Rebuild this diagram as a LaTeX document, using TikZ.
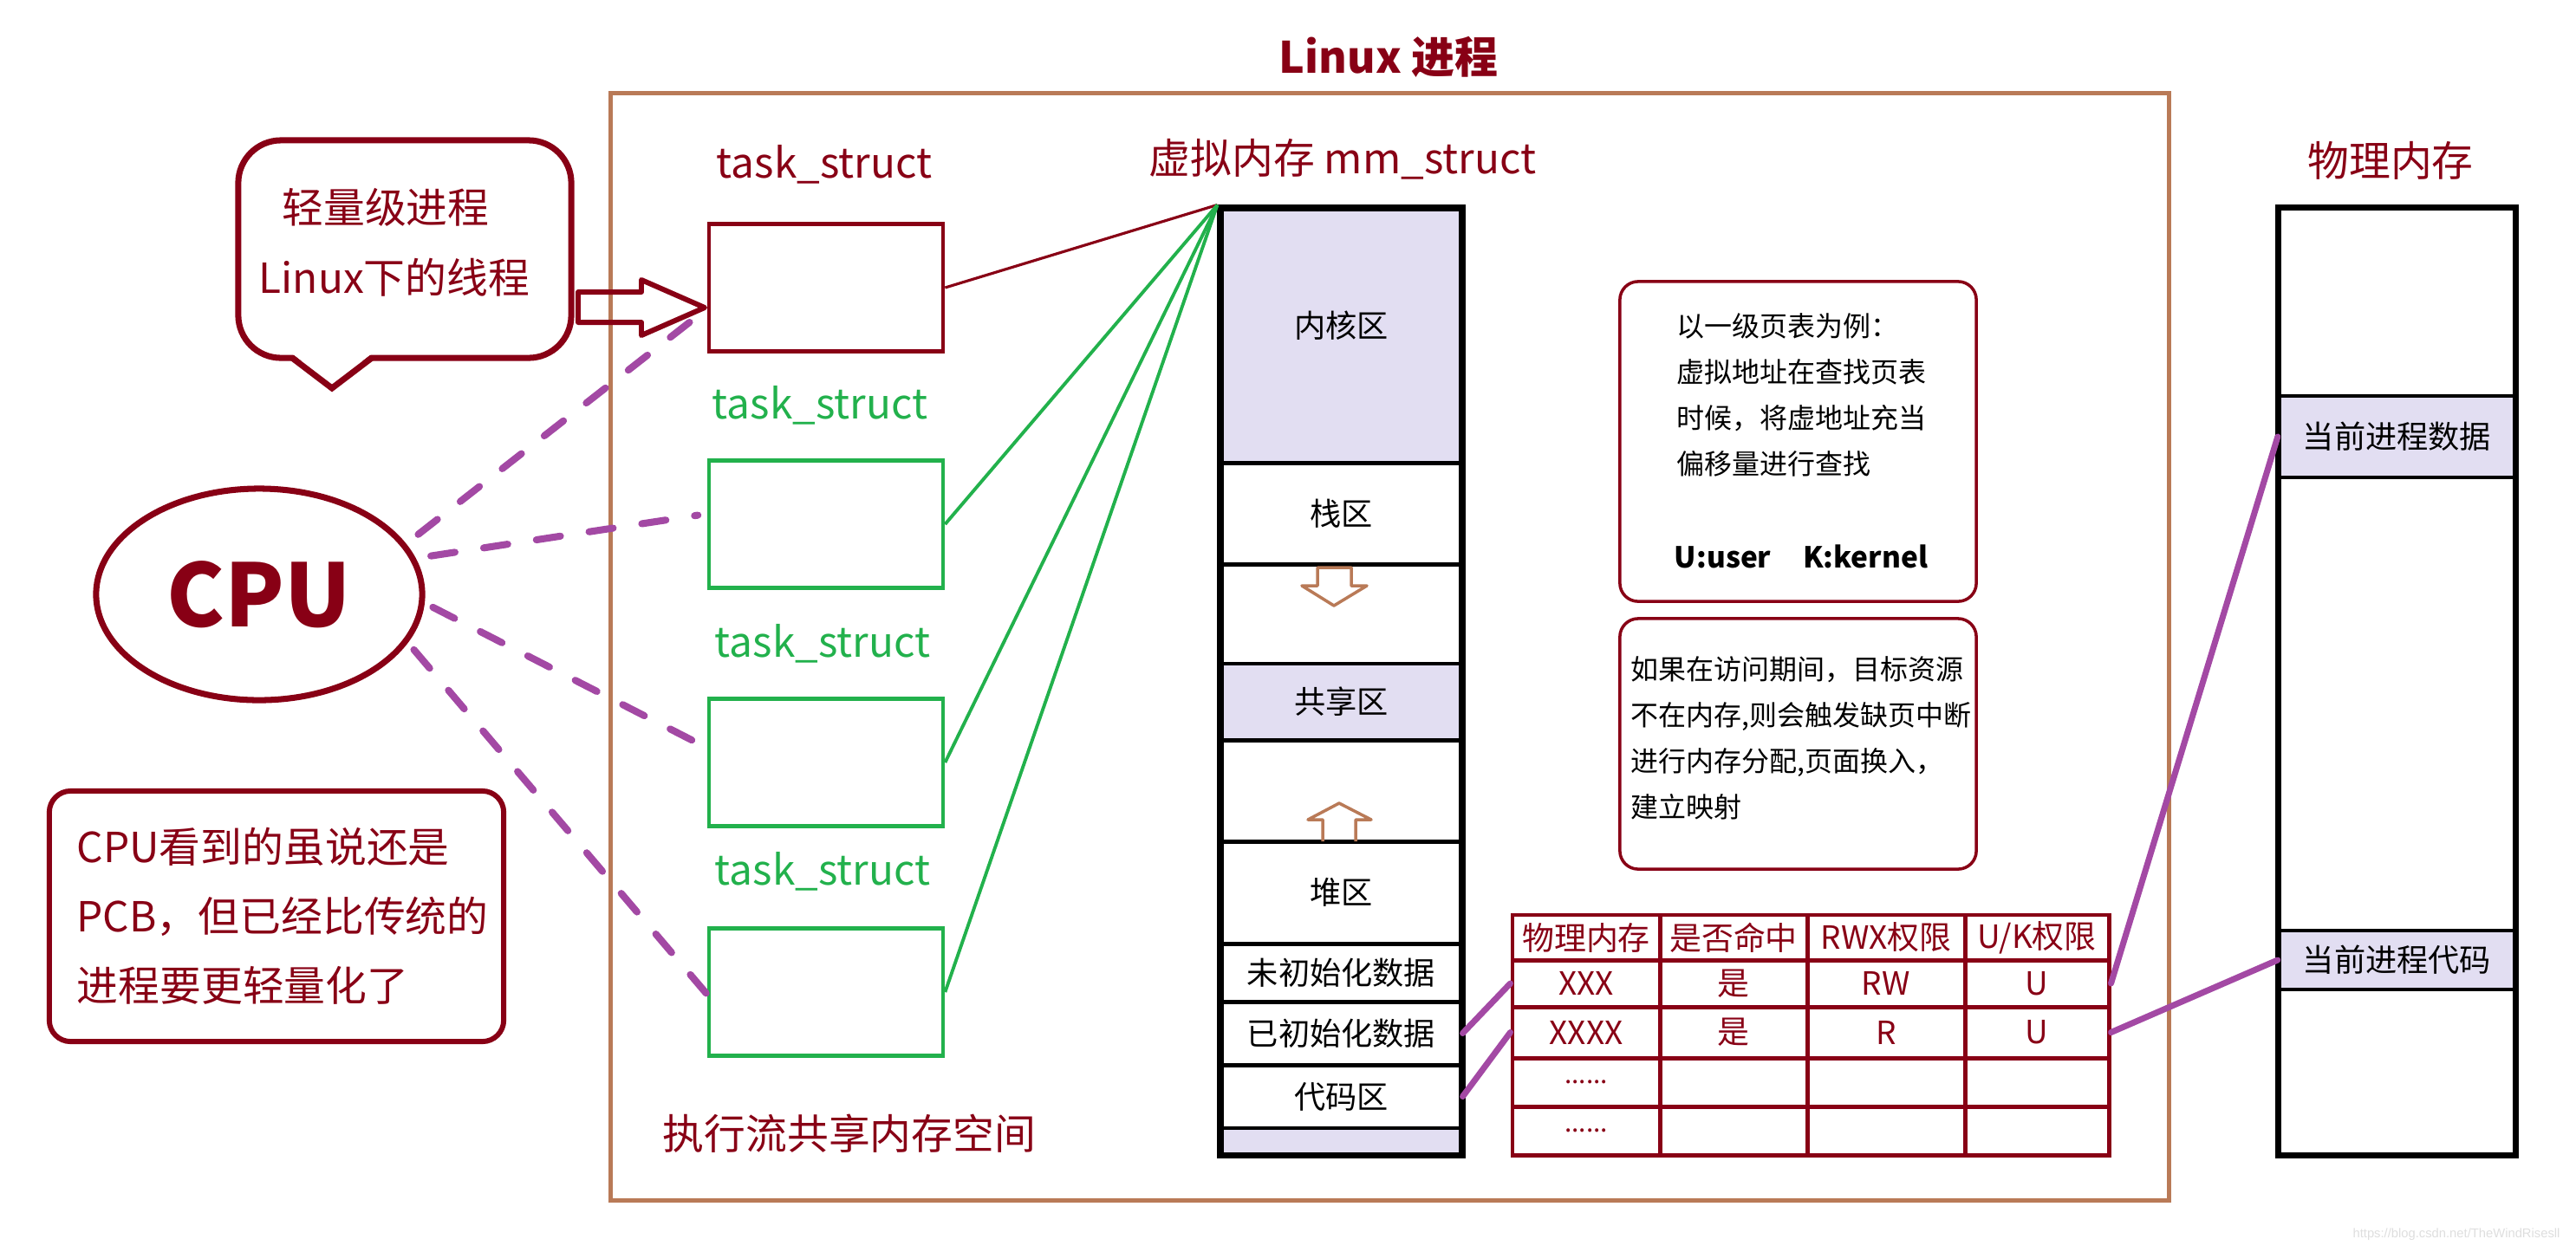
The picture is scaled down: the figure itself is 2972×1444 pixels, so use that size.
\documentclass[tikz,border=0pt]{standalone}
\usepackage{fontspec}
\setmainfont{Noto Sans CJK SC}
\newfontfamily\wmfont{Liberation Sans}
\usetikzlibrary{shapes.geometric,fit}
\definecolor{dred}{HTML}{880015}
\definecolor{brn}{HTML}{B97A57}
\definecolor{grn}{HTML}{22B14C}
\definecolor{purp}{HTML}{A349A4}
\definecolor{lav}{HTML}{E2DEF2}
\newcommand\fsz[2]{\fontsize{#1}{#2}\selectfont}
\begin{document}
\begin{tikzpicture}[x=0.01cm, y=-0.01cm,
  lbl/.style={inner sep=0, font=\fsz{13.6pt}{16pt}},
  task/.style={draw, line width=1.3pt, minimum width=2.70cm, minimum height=1.47cm, inner sep=0},
  vrow/.style={draw=black, line width=1.4pt, minimum width=2.75cm, inner sep=0, font=\fsz{10.3pt}{12pt}},
  prow/.style={draw=black, line width=1.2pt, minimum width=2.71cm, inner sep=0, font=\fsz{10.3pt}{12pt}},
  cell/.style={draw=dred, line width=1.4pt, inner sep=0, text=dred, font=\fsz{10.5pt}{12pt}},
  ca/.style={minimum width=1.70cm}, cb/.style={minimum width=1.70cm},
  cc/.style={minimum width=1.82cm}, cd/.style={minimum width=1.66cm},
  ra/.style={minimum height=0.52cm}, rb/.style={minimum height=0.54cm},
  rc/.style={minimum height=0.59cm}, rd/.style={minimum height=0.56cm},
  re/.style={minimum height=0.56cm},
  notebox/.style={draw=dred, line width=1pt, rounded corners=6pt, inner sep=0},
  dashp/.style={purp, line width=2.3pt, line cap=round, dash pattern=on 8pt off 9.5pt},
  plink/.style={purp, line width=2pt, line cap=round},
  barrow/.style={line join=round}
]
\useasboundingbox (0,0) rectangle (2972,1444);

% outer frame and title
\node[draw=brn, line width=1.4pt, minimum width=17.97cm, minimum height=12.77cm, inner sep=0] (frame) at (1603.5,746.5) {};
\node[text=dred, font=\bfseries\fsz{14.2pt}{17pt}, inner sep=0] (title) at (1602,66) {Linux 进程};

% speech bubble
\node[draw=dred, line width=2pt, rounded corners=14pt, minimum width=3.84cm, minimum height=2.51cm, inner sep=0] (bubble) at (467,287.5) {};
\fill[white] (333,405) -- (383,444) -- (433,405) -- cycle;
\draw[dred, line width=2pt, line join=miter] (337,413) -- (383,448) -- (429,413);
\node[lbl, text=dred] (b1) at (445,239) {轻量级进程};
\node[lbl, text=dred] (b2) at (455,320) {Linux下的线程};

% block arrow to task_struct
\draw[dred, line width=1.7pt, barrow] (667,337) -- (740,337) -- (740,323) -- (813,355) -- (740,387) -- (740,372) -- (667,372) -- cycle;

% CPU
\node[ellipse, draw=dred, line width=2pt, minimum width=3.76cm, minimum height=2.44cm, inner sep=0, text=dred, font=\bfseries\fsz{28.5pt}{32pt}] (cpu) at (299,686) {CPU};

% bottom-left note
\node[draw=dred, line width=1.7pt, rounded corners=7pt, minimum width=5.24cm, minimum height=2.89cm, inner sep=0] (pcbnote) at (319,1057.5) {};
\node[anchor=west, align=left, text=dred, font=\fsz{13.6pt}{22.8pt}, inner sep=0] (pcbtext) at (88,1057) {CPU看到的虽说还是\\PCB，但已经比传统的\\进程要更轻量化了};

% task_struct boxes
\node[task, draw=dred] (t1) at (953,332) {};
\node[task, draw=grn] (t2) at (953,605) {};
\node[task, draw=grn] (t3) at (953,880) {};
\node[task, draw=grn] (t4) at (953,1145) {};
\node[lbl, text=dred] (l1) at (951,190) {task\_struct};
\node[lbl, text=grn] (l2) at (946,468) {task\_struct};
\node[lbl, text=grn] (l3) at (949,743) {task\_struct};
\node[lbl, text=grn] (l4) at (949,1006) {task\_struct};

% virtual memory column
\node[vrow, fill=lav, minimum height=2.92cm, text depth=8pt] (kern) at (1547.5,388) {内核区};
\node[vrow, minimum height=1.17cm] (stack) at (1547.5,592.5) {栈区};
\node[vrow, minimum height=1.15cm] (gap1) at (1547.5,708.5) {};
\node[vrow, fill=lav, minimum height=0.88cm] (shared) at (1547.5,810) {共享区};
\node[vrow, minimum height=1.17cm] (gap2) at (1547.5,912.5) {};
\node[vrow, minimum height=1.18cm] (heap) at (1547.5,1030) {堆区};
\node[vrow, minimum height=0.67cm] (bss) at (1547.5,1122.5) {未初始化数据};
\node[vrow, minimum height=0.73cm] (data) at (1547.5,1192.5) {已初始化数据};
\node[vrow, minimum height=0.73cm] (code) at (1547.5,1265.5) {代码区};
\node[vrow, fill=lav, minimum height=0.30cm] (vbot) at (1547.5,1317) {};
\node[fit=(kern)(vbot), inner sep=0, draw, line width=1.7pt] (vm) {};
\node[lbl, text=dred] (vmlbl) at (1549,184) {虚拟内存 mm\_struct};
\draw[brn, line width=1pt, barrow] (1520,655) -- (1559,655) -- (1559,676) -- (1577,676) -- (1539,699) -- (1502,676) -- (1520,676) -- cycle;
\draw[brn, line width=1pt, barrow] (1526,971) -- (1526,946) -- (1509,946) -- (1545,927) -- (1582,946) -- (1564,946) -- (1564,971);

% task_struct -> mm_struct
\draw[dred, line width=0.9pt] (t1.east) -- (vm.north west);
\draw[grn, line width=1.1pt] (t2.east) -- (vm.north west);
\draw[grn, line width=1.1pt] (t3.east) -- (vm.north west);
\draw[grn, line width=1.1pt] (t4.east) -- (vm.north west);

% right notes
\node[notebox, minimum width=4.11cm, minimum height=3.69cm] (noteA) at (2074.5,509.5) {};
\node[anchor=west, align=left, inner sep=0, font=\fsz{9.1pt}{15.1pt}] (noteAtxt) at (1934,456) {以一级页表为例：\\虚拟地址在查找页表\\时候，将虚地址充当\\偏移量进行查找};
\node[inner sep=0, font=\bfseries\fsz{9.5pt}{11pt}] (uk) at (2078,642) {U:user\hspace{1.1em}K:kernel};
\node[notebox, minimum width=4.11cm, minimum height=2.89cm] (noteB) at (2074.5,858.5) {};
\node[anchor=west, align=left, inner sep=0, font=\fsz{9.1pt}{15.1pt}] (noteBtxt) at (1881,852) {如果在访问期间，目标资源\\不在内存,则会触发缺页中断\\进行内存分配,页面换入，\\建立映射};

% page table
\node[cell,ca,ra] (t01) at (1830,1082) {物理内存};
\node[cell,cb,ra] (t02) at (2000,1082) {是否命中};
\node[cell,cc,ra] (t03) at (2176,1082) {RWX权限};
\node[cell,cd,ra] (t04) at (2350,1082) {U/K权限};
\node[cell,ca,rb] (t11) at (1830,1135) {XXX};
\node[cell,cb,rb] (t12) at (2000,1135) {是};
\node[cell,cc,rb] (t13) at (2176,1135) {RW};
\node[cell,cd,rb] (t14) at (2350,1135) {U};
\node[cell,ca,rc] (t21) at (1830,1191.5) {XXXX};
\node[cell,cb,rc] (t22) at (2000,1191.5) {是};
\node[cell,cc,rc] (t23) at (2176,1191.5) {R};
\node[cell,cd,rc] (t24) at (2350,1191.5) {U};
\node[cell,ca,rd] (t31) at (1830,1249) {};
\node[cell,cb,rd] (t32) at (2000,1249) {};
\node[cell,cc,rd] (t33) at (2176,1249) {};
\node[cell,cd,rd] (t34) at (2350,1249) {};
\node[cell,ca,re] (t41) at (1830,1305) {};
\node[cell,cb,re] (t42) at (2000,1305) {};
\node[cell,cc,re] (t43) at (2176,1305) {};
\node[cell,cd,re] (t44) at (2350,1305) {};
\node[inner sep=0, text=dred, font=\fsz{8.5pt}{9pt}] (dots1) at (t31) {......};
\node[inner sep=0, text=dred, font=\fsz{8.5pt}{9pt}] (dots2) at (t41) {......};

% physical memory column
\node[prow, minimum height=2.16cm] (p1) at (2765.5,349) {};
\node[prow, fill=lav, minimum height=0.94cm] (pdata) at (2765.5,504) {当前进程数据};
\node[prow, minimum height=5.23cm] (p2) at (2765.5,812.5) {};
\node[prow, fill=lav, minimum height=0.68cm] (pcode) at (2765.5,1108) {当前进程代码};
\node[prow, minimum height=1.90cm] (p3) at (2765.5,1237) {};
\node[fit=(p1)(p3), inner sep=0, draw, line width=1.5pt] (pm) {};
\node[lbl, text=dred] (pmlbl) at (2758,185) {物理内存};

% mapping links
\draw[plink] (data.east) -- (t11.west);
\draw[plink] (code.east) -- (t21.west);
\draw[plink] (t14.east) -- (pdata.west);
\draw[plink] (t24.east) -- (pcode.west);

% CPU -> task_struct dashed
\draw[dashp, shorten <=5pt] (cpu.19) -- (t1.190);
\draw[dashp, shorten <=5pt, shorten >=3pt] (cpu.13) -- (t2.175);
\draw[dashp, shorten <=3pt] (cpu.-3) -- (t3.173);
\draw[dashp, shorten <=3pt] (cpu.-18) -- (t4.181);

% bottom text and watermark
\node[lbl, text=dred] (exec) at (980,1308) {执行流共享内存空间};
\node[inner sep=0, text=black!13, font=\wmfont\fsz{4.2pt}{5pt}] (wm) at (2834,1425) {https://blog.csdn.net/TheWindRisesll};
\end{tikzpicture}
\end{document}
